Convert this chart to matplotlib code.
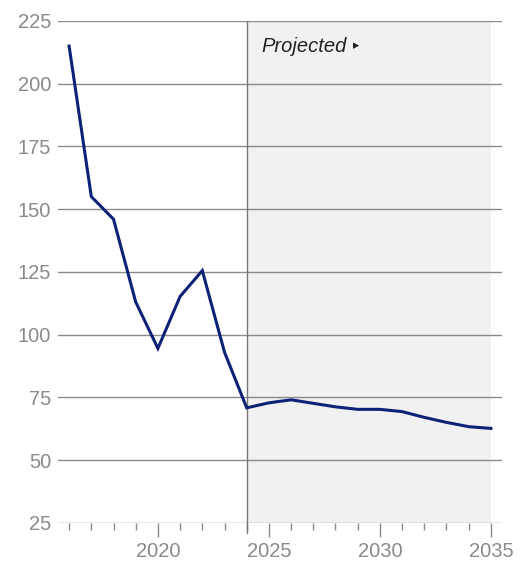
import matplotlib
matplotlib.use("Agg")
import matplotlib.pyplot as plt
from matplotlib.ticker import MultipleLocator

plt.rcParams['font.family'] = ['Liberation Sans', 'DejaVu Sans']

years = [2016, 2017, 2018, 2019, 2020, 2021, 2022, 2023, 2024, 2025,
         2026, 2027, 2028, 2029, 2030, 2031, 2032, 2033, 2034, 2035]
values = [215, 155, 146, 113, 94.5, 115.2, 125.5, 93, 70.8, 72.8,
          74, 72.6, 71.2, 70.2, 70.2, 69.3, 67, 65, 63.3, 62.6]
proj_start = 2024
proj_end = 2035
yticks = [25, 50, 75, 100, 125, 150, 175, 200, 225]
xlabels = [2020, 2025, 2030, 2035]

grey = "#8a8a8a"
fig = plt.figure(figsize=(5.24, 5.63), dpi=100)
ax = fig.add_axes([0.1107, 0.0715, 0.8473, 0.8912])

ax.axvspan(proj_start, proj_end, color="#f1f1f1", zorder=0, lw=0)
for y in yticks:
    ax.axhline(y, color=grey, lw=1, zorder=1)
ax.plot([proj_start, proj_start], [25 - 4, 225], color="#777777", lw=1,
        zorder=2, clip_on=False)
ax.plot(years, values, color="#0c2277", lw=2.2, zorder=3,
        solid_joinstyle="miter")

ax.text(2024.65, 215, "Projected", style="italic", fontsize=14.5,
        color="#222222", va="center", ha="left")
ax.text(2028.8, 215.3, "\u25b8", fontsize=9, color="#222222",
        va="center", ha="left", family="DejaVu Sans")

ax.set_xlim(2015.5, 2035.5)
ax.set_ylim(25, 225)
for s in ax.spines.values():
    s.set_visible(False)

ax.set_yticks(yticks)
ax.tick_params(axis="y", length=0, pad=5, labelsize=14.5, labelcolor=grey)
ax.set_xticks(xlabels)
ax.xaxis.set_minor_locator(MultipleLocator(1))
ax.tick_params(axis="x", which="major", length=10, width=1, color=grey,
               pad=4, labelsize=14.5, labelcolor=grey)
ax.tick_params(axis="x", which="minor", length=5, width=1, color=grey)

fig.savefig("out.png", dpi=100)
